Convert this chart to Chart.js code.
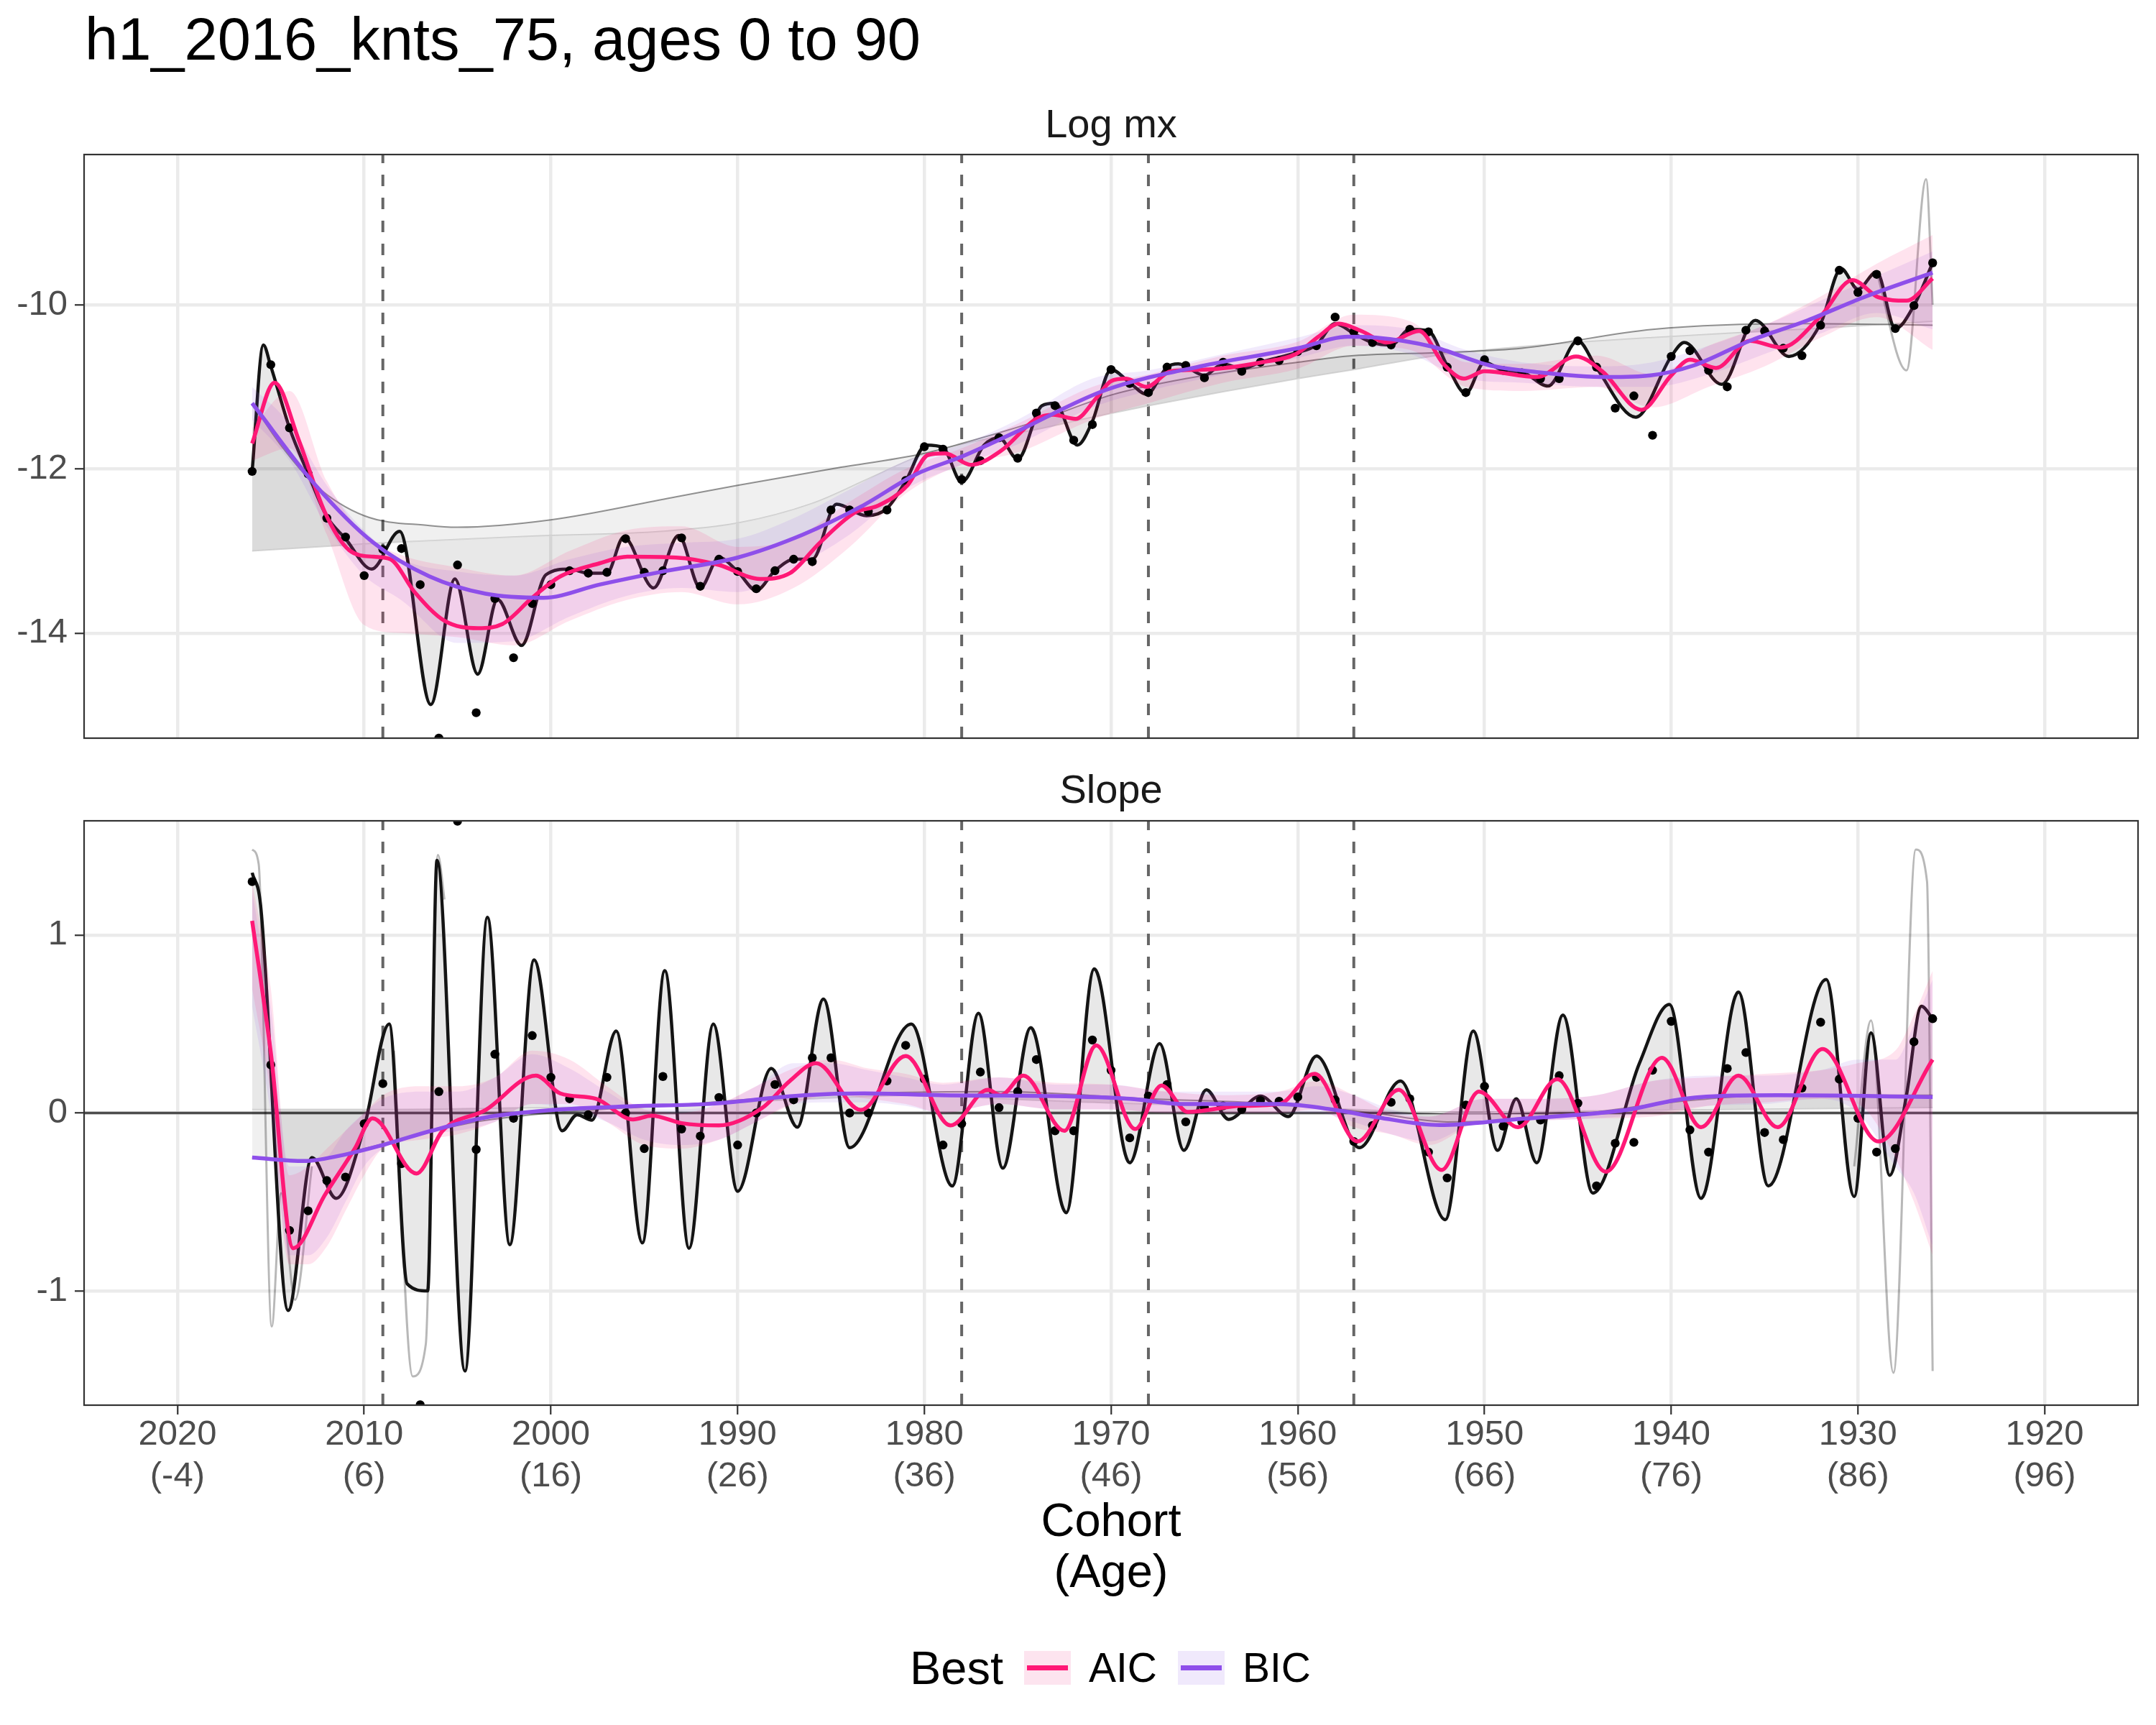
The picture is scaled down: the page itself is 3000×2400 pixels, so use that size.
<!DOCTYPE html>
<html>
<head>
<meta charset="utf-8">
<script src="https://cdn.jsdelivr.net/npm/chart.js@4.4.1/dist/chart.umd.min.js"></script>
<style>
html,body{margin:0;padding:0;background:#fff;}
#page{position:relative;width:3000px;height:2400px;background:#fff;font-family:'Liberation Sans',Arial,Helvetica,sans-serif;overflow:hidden;}
.t{position:absolute;white-space:nowrap;line-height:1;}
.c{transform:translateX(-50%);}
canvas{position:absolute;left:0;}
.key{position:absolute;width:65px;height:47px;}
.key i{position:absolute;left:4px;right:4px;top:20px;height:7px;display:block;}
</style>
</head>
<body>
<div id="page">
  <canvas id="c1" width="3000" height="920" style="top:150px;width:3000px;height:920px"></canvas>
  <canvas id="c2" width="3000" height="1020" style="top:1100px;width:3000px;height:1020px"></canvas>
  <div class="t" style="left:118px;top:13px;font-size:83px;color:#000;">h1_2016_knts_75, ages 0 to 90</div>
  <div class="t c" style="left:1546px;top:144px;font-size:56px;color:#1A1A1A;">Log mx</div>
  <div class="t c" style="left:1546px;top:1070px;font-size:56px;color:#1A1A1A;">Slope</div>
  <div class="t c" style="left:1546px;top:2082px;font-size:65px;color:#000;">Cohort</div>
  <div class="t c" style="left:1546px;top:2153px;font-size:65px;color:#000;">(Age)</div>
  <div class="t" style="left:1266px;top:2288px;font-size:65px;color:#000;">Best</div>
  <div class="key" style="left:1425px;top:2297px;background:#FDE4EF;"><i style="background:#FF1876;"></i></div>
  <div class="t" style="left:1515px;top:2292px;font-size:57px;color:#000;">AIC</div>
  <div class="key" style="left:1639px;top:2297px;background:#F0E9FC;"><i style="background:#8E4FEA;"></i></div>
  <div class="t" style="left:1729px;top:2292px;font-size:57px;color:#000;">BIC</div>
</div>
<script>
// ---------------- data ----------------
const TICK_AGES = [-4, 6, 16, 26, 36, 46, 56, 66, 76, 86, 96];
const TICK_COHORTS = ['2020','2010','2000','1990','1980','1970','1960','1950','1940','1930','1920'];
const TICK_AGE_LABELS = ['(-4)','(6)','(16)','(26)','(36)','(46)','(56)','(66)','(76)','(86)','(96)'];
const KNOTS = [7, 38, 48, 59];
const TOP_Y_TICKS = [-14, -12, -10];
const BOT_Y_TICKS = [-1, 0, 1];

const AGES = [0,1,2,3,4,5,6,7,8,9,10,11,12,13,14,15,16,17,18,19,20,21,22,23,24,25,26,27,28,29,
  30,31,32,33,34,35,36,37,38,39,40,41,42,43,44,45,46,47,48,49,50,51,52,53,54,55,56,57,58,59,
  60,61,62,63,64,65,66,67,68,69,70,71,72,73,74,75,76,77,78,79,80,81,82,83,84,85,86,87,88,89,90];

const LOGMX = [-12.03,-10.73,-11.50,-12.06,-12.60,-12.83,-13.30,-12.98,-12.97,-13.41,
  -15.28,-13.17,-14.97,-13.58,-14.30,-13.64,-13.41,-13.24,-13.27,-13.26,
  -12.85,-13.26,-13.24,-12.84,-13.43,-13.10,-13.25,-13.46,-13.24,-13.10,
  -13.13,-12.50,-12.50,-12.52,-12.50,-12.14,-11.73,-11.76,-12.13,-11.90,
  -11.62,-11.87,-11.32,-11.23,-11.65,-11.46,-10.79,-10.96,-11.07,-10.76,
  -10.74,-10.89,-10.70,-10.81,-10.70,-10.68,-10.57,-10.50,-10.15,-10.33,
  -10.46,-10.49,-10.30,-10.33,-10.76,-11.07,-10.67,-10.80,-10.83,-10.90,
  -10.90,-10.44,-10.76,-11.26,-11.11,-11.59,-10.63,-10.56,-10.80,-11.00,
  -10.31,-10.32,-10.53,-10.62,-10.25,-9.58,-9.85,-9.63,-10.29,-10.01,
  -9.49];

const SLOPE = [1.30,0.27,-0.66,-0.55,-0.38,-0.36,-0.06,0.165,-0.285,-1.64,
  0.12,1.64,-0.205,0.33,-0.03,0.435,0.20,0.08,-0.01,0.20,
  0.00,-0.20,0.205,-0.09,-0.13,0.087,-0.18,0.00,0.16,0.074,
  0.31,0.31,0.00,0.00,0.18,0.38,0.19,-0.18,-0.06,0.23,
  0.03,0.12,0.30,-0.10,-0.10,0.41,0.24,-0.14,0.095,0.16,
  -0.05,0.03,0.04,0.02,0.07,0.066,0.09,0.20,0.074,-0.16,
  -0.07,0.06,0.08,-0.22,-0.365,0.045,0.15,-0.074,-0.05,-0.04,
  0.21,0.055,-0.41,-0.17,-0.165,0.24,0.515,-0.095,-0.22,0.25,
  0.34,-0.11,-0.15,0.14,0.51,0.19,-0.03,-0.22,-0.20,0.40,
  0.53];

// most flexible fit (black), log mx
const TOP_BLACK_AGES = [0,0.6,1,2,3,4,5,6.4,7.9,9.57,10.86,12.08,13.14,14.43,15.73,17,18,19,19.9,21.5,
  22.84,24,25,26,27,28,29.07,30,31.3,32.9,34,35,36.1,37,38,39.2,40,41,42.3,43,
  44.2,45,46,47,47.9,49,49.6,51,52,53,54,56,57,58,59,60,61,62,63,64,
  65,66,67,68,69.4,71,72,74.1,76,76.7,78.7,80.5,82.3,84,85.1,86,87,88,89,90];
const TOP_BLACK = [-12.03,-10.49,-10.75,-11.5,-12.06,-12.58,-12.85,-13.22,-12.76,-14.87,
  -13.34,-14.5,-13.59,-14.15,-13.29,-13.22,-13.27,-13.27,-12.83,-13.45,
  -12.81,-13.45,-13.08,-13.25,-13.48,-13.24,-13.1,-13.1,-12.43,-12.57,
  -12.48,-12.15,-11.71,-11.74,-12.16,-11.71,-11.62,-11.88,-11.23,-11.2,
  -11.71,-11.42,-10.79,-10.95,-11.09,-10.76,-10.72,-10.86,-10.72,-10.78,
  -10.7,-10.58,-10.49,-10.23,-10.35,-10.46,-10.49,-10.3,-10.32,-10.74,
  -11.08,-10.7,-10.8,-10.82,-10.99,-10.44,-10.77,-11.37,-10.63,-10.46,
  -10.97,-10.19,-10.63,-10.23,-9.56,-9.81,-9.6,-10.29,-10.01,-9.49];
// stiffest fit (lightest grey) and an intermediate darker fit, log mx
const TOP_STIFF_AGES = [0,7,15,22,26,30,33,36,38,42,45,48,52,56,59,64,68,75,83,90];
const TOP_STIFF = [-13.0,-12.9,-12.82,-12.76,-12.66,-12.42,-12.12,-11.82,-11.7,-11.52,-11.37,-11.23,-11.06,-10.9,-10.79,-10.6,-10.51,-10.4,-10.3,-10.2];
const TOP_MID_AGES = [0,1.5,3.4,6,9.5,11,16,22.7,26,31,36,38,42,46,50,56,59,64,68,75,83,90];
const TOP_MID = [-11.2,-11.7,-12.2,-12.57,-12.69,-12.71,-12.62,-12.34,-12.2,-12.0,-11.81,-11.69,-11.42,-11.1,-10.9,-10.7,-10.62,-10.58,-10.53,-10.3,-10.23,-10.25];
const TOP_SPIKE_AGES = [87,88.6,89.65,90];
const TOP_SPIKE = [-9.6,-10.8,-8.47,-10.0];
// AIC / BIC best fits, log mx
const TOP_AIC_AGES = [0,1.2,2.5,3.9,5.2,6.5,7.4,8.7,10.3,12.1,13.4,15,16.5,18.6,20.1,22.7,25,27.2,28.8,30.4,
  32.3,33.5,35.1,36.2,37.1,38.5,40.1,42,42.9,44.1,45.2,46,46.8,47.9,49.2,51,54.1,55.9,57.1,58.2,
  59.4,60.8,62.5,63.8,64.9,66,68.8,70.9,72.3,74.4,76,77,78.4,80.2,81.9,84,85.7,87.1,88.6,90];
const TOP_AIC = [-11.69,-10.95,-11.65,-12.53,-12.99,-13.07,-13.1,-13.5,-13.85,-13.94,
  -13.89,-13.57,-13.31,-13.15,-13.07,-13.08,-13.17,-13.34,-13.27,-12.9,
  -12.53,-12.45,-12.2,-11.83,-11.81,-11.95,-11.78,-11.39,-11.34,-11.39,
  -11.14,-10.93,-10.9,-11.0,-10.81,-10.79,-10.7,-10.6,-10.39,-10.23,
  -10.32,-10.46,-10.32,-10.72,-10.9,-10.81,-10.88,-10.63,-10.81,-11.28,
  -10.86,-10.67,-10.77,-10.44,-10.52,-10.14,-9.7,-9.91,-9.95,-9.68];
const TOP_BIC_AGES = [0,3.4,6.5,9.5,12.5,15.6,18.6,22,26,29.5,32.6,35.6,38,40.9,45.7,51,56,58.7,60.2,63.2,
  66.3,68.8,72.6,74.9,77.2,80.2,83.3,86.3,90];
const TOP_BIC = [-11.2,-12.2,-12.9,-13.31,-13.52,-13.57,-13.41,-13.25,-13.08,-12.8,
  -12.46,-12.06,-11.85,-11.55,-11.04,-10.74,-10.53,-10.39,-10.4,-10.51,
  -10.74,-10.82,-10.88,-10.86,-10.74,-10.44,-10.19,-9.91,-9.61];
// ribbons, log mx
const TOP_RIB_AGES = [0,2,4,6,8,11,14,17,20,23,26,29,32,35,38,41,45,48,52,56,59,62,65,68,72,75,78,81,84,87,90];
const TOP_AIC_LO = [-11.9,-11.75,-12.8,-13.9,-14.0,-14.05,-14.15,-13.85,-13.6,-13.5,
  -13.65,-13.45,-12.95,-12.3,-11.95,-11.8,-11.4,-11.2,-10.95,-10.78,
  -10.5,-10.55,-11.0,-11.05,-11.0,-11.25,-11.0,-10.75,-10.4,-10.15,-10.55];
const TOP_AIC_HI = [-11.5,-11.05,-12.15,-12.8,-13.05,-13.2,-13.3,-13.0,-12.75,-12.7,
  -12.95,-12.85,-12.4,-12.0,-11.75,-11.45,-11.0,-10.85,-10.62,-10.45,
  -10.12,-10.2,-10.7,-10.72,-10.62,-10.85,-10.5,-10.25,-9.9,-9.5,-9.15];
const TOP_BIC_LO = [-11.4,-11.9,-12.7,-13.3,-13.6,-14.12,-14.1,-13.8,-13.55,-13.45,
  -13.5,-13.2,-12.8,-12.25,-11.95,-11.7,-11.25,-11.05,-10.85,-10.65,
  -10.5,-10.6,-10.9,-10.95,-11.0,-11.0,-10.85,-10.6,-10.35,-10.1,-10.3];
const TOP_BIC_HI = [-11.0,-11.45,-12.2,-12.75,-13.1,-13.25,-13.3,-13.1,-12.95,-12.9,
  -12.85,-12.6,-12.25,-11.9,-11.7,-11.4,-10.9,-10.8,-10.6,-10.4,
  -10.25,-10.3,-10.55,-10.7,-10.75,-10.7,-10.5,-10.25,-9.95,-9.65,-9.35];

// slope panel
const BOT_BLACK_AGES = [0,0.45,1.93,3.2,4.5,6.0,7.34,8.3,9.4,9.9,11.4,12.6,13.8,15.1,16.6,17.4,18.2,19.5,20.9,22.1,
  23.4,24.7,26,27.8,29.2,30.6,32,35.3,37.5,38.9,40.2,41.7,43.6,45.1,47,48.6,49.9,51.1,52.3,54,
  55.5,57,59.3,61.5,63.9,65.4,66.7,67.7,68.8,70.2,71.8,74.3,75.9,77.6,79.6,81.2,84.3,85.8,86.7,87.7,
  88.6,89.4,90];
const BOT_BLACK = [1.35,1.17,-1.11,-0.25,-0.48,-0.08,0.50,-0.96,-1.0,1.42,-1.45,1.10,-0.74,0.86,-0.10,-0.01,-0.04,0.46,-0.73,0.80,
  -0.76,0.50,-0.44,0.25,-0.08,0.64,-0.195,0.50,-0.41,0.56,-0.31,0.48,-0.56,0.81,-0.28,0.39,-0.21,0.13,-0.036,0.095,
  -0.02,0.32,-0.195,0.18,-0.60,0.46,-0.21,0.08,-0.28,0.55,-0.45,0.28,0.61,-0.48,0.68,-0.41,0.75,-0.47,0.45,-0.35,
  0.1,0.6,0.53];
const BOT_STIFF_AGES = [0,7,15,22,30,36,40,48,55,59,65,70,80,90];
const BOT_STIFF = [0.02,0.02,0.03,0.04,0.08,0.1,0.08,0.05,0.04,0.02,0.0,0.01,0.02,0.03];
const BOT_MID_AGES = [0,3,6,9,12,16,22,30,40,48,55,60,64,70,76,82,90];
const BOT_MID = [-0.25,-0.27,-0.2,-0.12,-0.05,0.0,0.04,0.1,0.12,0.08,0.05,0.0,-0.05,-0.02,0.06,0.1,0.1];
const BOT_SPIKE_AGES = [0,0.35,1.05,1.55,2.3,3.2,5,7.6,8.6,9.3,9.95,10.3,40,85.8,86.7,87.9,89.1,89.7,90];
const BOT_SPIKE = [1.48,1.4,-1.2,-0.45,-1.05,-0.3,null,0.35,-1.48,-1.3,1.45,1.2,null,-0.3,0.52,-1.46,1.48,1.3,-1.45];
const BOT_AIC_AGES = [0,1,2.2,3.9,5.5,6.45,8.8,10.2,12.5,15.2,16.5,18.4,20.4,21.4,23,25,27.3,28.8,30.2,32.6,
  35,37.4,39.4,40.1,41.3,43.5,45.2,47.3,48.7,50.1,53,55,56.9,59.2,61.4,63.7,65.7,67.8,69.9,72.5,
  75.5,77.6,79.6,81.7,84.1,87.1,90];
const BOT_AIC = [1.08,0.34,-0.76,-0.46,-0.2,-0.03,-0.34,-0.1,0.017,0.21,0.11,0.08,-0.036,-0.015,-0.057,-0.07,0.027,0.18,0.28,0.017,
  0.32,-0.07,0.13,0.10,0.21,-0.10,0.38,-0.09,0.155,0.006,0.04,0.05,0.22,-0.16,0.13,-0.32,0.12,-0.08,0.19,-0.33,
  0.31,-0.08,0.21,-0.08,0.36,-0.16,0.30];
const BOT_BIC_AGES = [0,2.8,4.7,7,9.6,12.5,16.1,20.4,24.3,29.6,32.8,36.9,42.9,47,50,55,58,60.3,63.6,67.6,73.6,76.7,81.7,90];
const BOT_BIC = [-0.25,-0.27,-0.24,-0.18,-0.1,-0.025,0.017,0.038,0.05,0.10,0.11,0.10,0.095,0.08,0.05,0.05,0.017,-0.025,-0.068,-0.036,0.017,0.08,0.10,0.09];
const BOT_RIB_AGES = [0,1,2,3,4,5,6,7,9,11,13,15,17,19,21,23,25,27,29,31,33,35,37,40,43,46,49,52,55,57,59,61,63,66,69,72,75,78,81,84,86,88,89,90];
const BOT_AIC_LO = [0.7,0.1,-0.85,-0.85,-0.75,-0.55,-0.35,-0.2,-0.15,-0.12,
  -0.05,0.05,0.05,-0.05,-0.18,-0.2,-0.15,-0.05,0.05,0.1,
  0.08,0.05,0.0,0.05,0.02,0.02,0.0,0.0,0.0,0.02,
  -0.08,-0.12,-0.18,-0.04,-0.04,-0.03,-0.02,0.04,0.06,0.08,
  0.05,-0.25,-0.5,-0.8];
const BOT_AIC_HI = [1.3,0.7,-0.35,-0.3,-0.2,-0.1,0.0,0.1,0.15,0.15,
  0.2,0.35,0.3,0.15,0.02,0.0,0.05,0.15,0.25,0.3,
  0.25,0.22,0.17,0.2,0.17,0.16,0.12,0.1,0.12,0.18,
  0.1,0.0,-0.02,0.08,0.08,0.1,0.18,0.2,0.22,0.24,
  0.28,0.35,0.55,0.8];
const BOT_BIC_LO = [0.6,0.0,-0.8,-0.8,-0.7,-0.5,-0.3,-0.2,-0.12,-0.1,
  -0.05,0.05,0.02,-0.05,-0.15,-0.18,-0.15,-0.05,0.05,0.06,
  0.06,0.04,0.0,0.05,0.02,0.02,0.0,0.0,0.0,0.0,
  -0.05,-0.12,-0.16,-0.04,-0.04,-0.03,0.0,0.04,0.05,0.08,
  0.0,-0.3,-0.45,-0.75];
const BOT_BIC_HI = [1.25,0.6,-0.3,-0.3,-0.25,-0.1,0.0,0.08,0.12,0.12,
  0.2,0.33,0.25,0.12,0.02,0.02,0.05,0.15,0.28,0.28,
  0.24,0.2,0.16,0.2,0.16,0.16,0.12,0.12,0.12,0.15,
  0.1,0.02,-0.02,0.08,0.08,0.1,0.18,0.21,0.21,0.24,
  0.3,0.3,0.5,0.75];

// ---------------- styling ----------------
const AIC_COL = '#FF1876';
const BIC_COL = '#8E4FEA';
const AIC_FILL = 'rgba(255,24,118,0.12)';
const BIC_FILL = 'rgba(142,79,234,0.12)';
const FONT = "'Liberation Sans', Arial, Helvetica, sans-serif";

Chart.defaults.font.family = FONT;
Chart.defaults.animation = false;

function pts(xs, ys) { return xs.map((x, i) => ({ x: x, y: ys[i] })); }
function ds(label, xs, ys, o) {
  return Object.assign({
    label: label, data: pts(xs, ys), pointRadius: 0, pointHoverRadius: 0,
    borderWidth: 2, fill: false, cubicInterpolationMode: 'monotone', spanGaps: false, clip: 0
  }, o);
}

function panelPlugin(zero) {
  return {
    id: 'panel',
    beforeDatasetsDraw(chart) {
      const ctx = chart.ctx, a = chart.chartArea, xs = chart.scales.x, ys = chart.scales.y;
      ctx.save();
      ctx.beginPath(); ctx.rect(a.left, a.top, a.right - a.left, a.bottom - a.top); ctx.clip();
      if (zero) {
        const py = ys.getPixelForValue(0);
        ctx.strokeStyle = '#4D4D4D'; ctx.lineWidth = 3.5;
        ctx.beginPath(); ctx.moveTo(a.left, py); ctx.lineTo(a.right, py); ctx.stroke();
      }
      ctx.strokeStyle = '#666666'; ctx.lineWidth = 4; ctx.setLineDash([16, 16]);
      KNOTS.forEach(k => {
        const px = xs.getPixelForValue(k);
        ctx.beginPath(); ctx.moveTo(px, a.bottom); ctx.lineTo(px, a.top); ctx.stroke();
      });
      ctx.restore();
    },
    afterDraw(chart) {
      const ctx = chart.ctx, a = chart.chartArea;
      ctx.save(); ctx.strokeStyle = '#333333'; ctx.lineWidth = 2.2;
      ctx.strokeRect(a.left, a.top, a.right - a.left, a.bottom - a.top);
      ctx.restore();
    }
  };
}

function buildDatasets(P) {
  // indices: 0 dots,1 BIC,2 AIC,3 AIC hi,4 AIC lo,5 BIC hi,6 BIC lo,7 black,8 spike,9 mid,10 stiff
  return [
    ds('points', AGES, P.dots, { showLine: false, pointRadius: 6.2, pointBackgroundColor: '#000', pointBorderWidth: 0, order: 4 }),
    ds('BIC', P.bicX, P.bic, { borderColor: BIC_COL, borderWidth: 5.5, order: 2 }),
    ds('AIC', P.aicX, P.aic, { borderColor: AIC_COL, borderWidth: 5.5, order: 3 }),
    ds('AIC hi', P.ribX, P.aicHi, { borderWidth: 0, borderColor: 'rgba(0,0,0,0)', backgroundColor: AIC_FILL, fill: 4, order: 5 }),
    ds('AIC lo', P.ribX, P.aicLo, { borderWidth: 0, borderColor: 'rgba(0,0,0,0)', order: 5 }),
    ds('BIC hi', P.ribX, P.bicHi, { borderWidth: 0, borderColor: 'rgba(0,0,0,0)', backgroundColor: BIC_FILL, fill: 6, order: 6 }),
    ds('BIC lo', P.ribX, P.bicLo, { borderWidth: 0, borderColor: 'rgba(0,0,0,0)', order: 6 }),
    ds('flexible', P.blackX, P.black, { borderColor: '#141414', borderWidth: 4.5, order: 7 }),
    ds('spike', P.spikeX, P.spike, { borderColor: 'rgba(0,0,0,0.28)', borderWidth: 3, order: 8 }),
    ds('mid', P.midX, P.mid, { borderColor: 'rgba(40,40,40,0.5)', borderWidth: 2, fill: 10, backgroundColor: 'rgba(0,0,0,0.06)', order: 9 }),
    ds('stiff', P.stiffX, P.stiff, { borderColor: '#D8D8D8', borderWidth: 2, fill: 7, backgroundColor: 'rgba(0,0,0,0.09)', order: 10 })
  ];
}

function makeChart(id, P, opt) {
  return new Chart(document.getElementById(id), {
    type: 'line',
    data: { datasets: buildDatasets(P) },
    plugins: [panelPlugin(opt.zero)],
    options: {
      responsive: false, maintainAspectRatio: false, devicePixelRatio: 1, animation: false,
      events: [],
      layout: { padding: opt.padding },
      plugins: { legend: { display: false }, tooltip: { enabled: false }, title: { display: false } },
      scales: {
        x: {
          type: 'linear', min: -9, max: 101,
          afterBuildTicks: s => { s.ticks = TICK_AGES.map(v => ({ value: v })); },
          afterFit: s => { s.height = opt.xHeight; },
          ticks: {
            display: opt.xLabels, autoSkip: false, maxRotation: 0, minRotation: 0, padding: 0,
            color: '#4D4D4D', font: { size: 49, lineHeight: 1.17 },
            callback: (v, i) => [TICK_COHORTS[i], TICK_AGE_LABELS[i]]
          },
          grid: { color: '#EBEBEB', lineWidth: 4.5, drawTicks: opt.xLabels, tickLength: 13, tickColor: '#333333', tickWidth: 2.2 },
          border: { display: false }
        },
        y: {
          type: 'linear', min: opt.yMin, max: opt.yMax,
          afterBuildTicks: s => { s.ticks = opt.yTicks.map(v => ({ value: v })); },
          afterFit: s => { s.width = 117; },
          ticks: { color: '#4D4D4D', font: { size: 49 }, padding: 10, callback: v => String(v) },
          grid: { color: '#EBEBEB', lineWidth: 4.5, drawTicks: true, tickLength: 13, tickColor: '#333333', tickWidth: 2.2 },
          border: { display: false }
        }
      }
    }
  });
}

makeChart('c1', {
  dots: LOGMX, bicX: TOP_BIC_AGES, bic: TOP_BIC, aicX: TOP_AIC_AGES, aic: TOP_AIC,
  ribX: TOP_RIB_AGES, aicHi: TOP_AIC_HI, aicLo: TOP_AIC_LO, bicHi: TOP_BIC_HI, bicLo: TOP_BIC_LO,
  blackX: TOP_BLACK_AGES, black: TOP_BLACK, spikeX: TOP_SPIKE_AGES, spike: TOP_SPIKE,
  midX: TOP_MID_AGES, mid: TOP_MID, stiffX: TOP_STIFF_AGES, stiff: TOP_STIFF
}, { zero: false, padding: { top: 65, right: 25, bottom: 43, left: 0 }, xHeight: 0, xLabels: false,
     yMin: -15.28, yMax: -8.17, yTicks: TOP_Y_TICKS });

makeChart('c2', {
  dots: SLOPE, bicX: BOT_BIC_AGES, bic: BOT_BIC, aicX: BOT_AIC_AGES, aic: BOT_AIC,
  ribX: BOT_RIB_AGES, aicHi: BOT_AIC_HI, aicLo: BOT_AIC_LO, bicHi: BOT_BIC_HI, bicLo: BOT_BIC_LO,
  blackX: BOT_BLACK_AGES, black: BOT_BLACK, spikeX: BOT_SPIKE_AGES, spike: BOT_SPIKE,
  midX: BOT_MID_AGES, mid: BOT_MID, stiffX: BOT_STIFF_AGES, stiff: BOT_STIFF
}, { zero: true, padding: { top: 42, right: 25, bottom: 0, left: 0 }, xHeight: 165, xLabels: true,
     yMin: -1.642, yMax: 1.642, yTicks: BOT_Y_TICKS });
</script>
</body>
</html>
